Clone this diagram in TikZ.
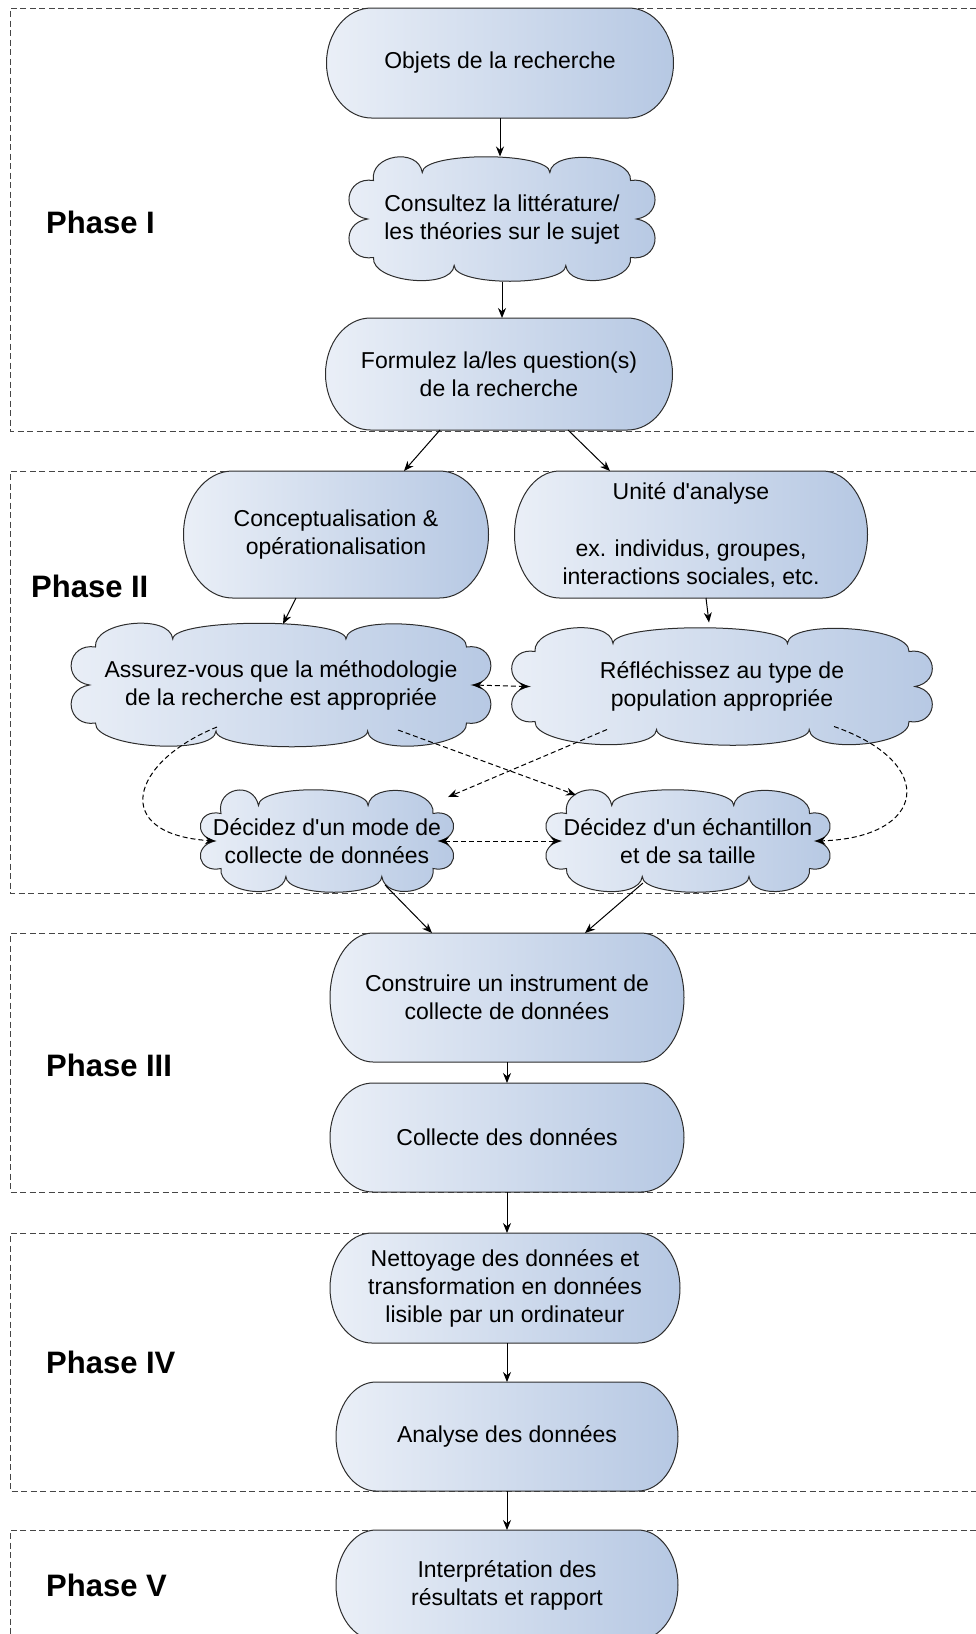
\documentclass[tikz,border=0pt]{standalone}
\usepackage{fontspec}
\setmainfont{Liberation Sans}
\usetikzlibrary{arrows.meta, calc, backgrounds}
\definecolor{fillL}{RGB}{234,239,247}
\definecolor{fillR}{RGB}{182,200,227}
\definecolor{edgecol}{RGB}{45,45,45}
\definecolor{phasecol}{RGB}{70,70,70}
\newcommand\stadium[2]{%
  \path[shapefill] let \p1=(#1.north west), \p2=(#1.south east) in
    (\x1+#2pt,\y1) -- (\x2-#2pt,\y1) arc[start angle=90, end angle=-90, x radius=#2pt, y radius={(\y1-\y2)/2}]
    -- (\x1+#2pt,\y2) arc[start angle=270, end angle=90, x radius=#2pt, y radius={(\y1-\y2)/2}] -- cycle;}
\newcommand\lobe[3]{.. controls ($(#1)!#3!90:(#2)$) and ($(#2)!#3!-90:(#1)$) .. (#2)}
\newcommand\cloudoutline[3]{% name, width, height
  \pgfmathsetmacro\cw{#2/2}\pgfmathsetmacro\ch{#3/2}\pgfmathsetmacro\sb{0.23*#3}%
  \coordinate (#1-c0) at ($(#1.center)+(-\cw+25,0)$);
  \coordinate (#1-c1) at ($(#1.center)+(-\cw+31,\ch-24)$);
  \coordinate (#1-c2) at ($(#1.center)+(-0.25*#2,\ch-16)$);
  \coordinate (#1-c3) at ($(#1.center)+(0.15*#2,\ch-16)$);
  \coordinate (#1-c4) at ($(#1.center)+(\cw-31,\ch-24)$);
  \coordinate (#1-c5) at ($(#1.center)+(\cw-25,0)$);
  \coordinate (#1-c6) at ($(#1.center)+(\cw-31,-\ch+24)$);
  \coordinate (#1-c7) at ($(#1.center)+(0.2*#2,-\ch+16)$);
  \coordinate (#1-c8) at ($(#1.center)+(-0.15*#2,-\ch+16)$);
  \coordinate (#1-c9) at ($(#1.center)+(-\cw+31,-\ch+24)$);
  \path[shapefill] (#1-c0) \lobe{#1-c0}{#1-c1}{\sb pt} \lobe{#1-c1}{#1-c2}{26pt}
    \lobe{#1-c2}{#1-c3}{21pt} \lobe{#1-c3}{#1-c4}{25pt} \lobe{#1-c4}{#1-c5}{\sb pt}
    \lobe{#1-c5}{#1-c6}{\sb pt} \lobe{#1-c6}{#1-c7}{25pt} \lobe{#1-c7}{#1-c8}{21pt}
    \lobe{#1-c8}{#1-c9}{25pt} \lobe{#1-c9}{#1-c0}{\sb pt} -- cycle;}
\begin{document}
\begin{tikzpicture}[x=1pt, y=1pt,
  every node/.style={font=\fontsize{23}{28}\selectfont},
  shapefill/.style={draw=edgecol, line width=1pt, left color=fillL, right color=fillR},
  term/.style={align=center, inner sep=0pt, outer sep=0pt},
  phaselabel/.style={anchor=west, inner sep=0pt, font=\bfseries\fontsize{31}{36}\selectfont},
  phasebox/.style={draw=phasecol, line width=1pt, dash pattern=on 6pt off 3.5pt},
  arr/.style={-{Stealth[length=10pt,width=8pt]}, line width=1pt, draw=black},
  darr/.style={arr, dash pattern=on 5pt off 3pt},
  ddarr/.style={{Stealth[length=10pt,width=8pt]}-{Stealth[length=10pt,width=8pt]}, line width=1pt, dash pattern=on 5pt off 3pt}
]
\useasboundingbox (0,0) rectangle (976,-1634);

% terminator nodes
\node[term, minimum width=347pt, minimum height=110pt] (obj) at (500,-63) {Objets de la recherche};
\node[term, minimum width=347pt, minimum height=112pt] (formul) at (499,-374) {Formulez la/les question(s)\\de la recherche};
\node[term, minimum width=305pt, minimum height=127pt] (concept) at (336,-534.5) {Conceptualisation \&\\op\'erationalisation};
\node[term, minimum width=353pt, minimum height=127pt] (unite) at (691,-534.5) {Unit\'e d\textquotesingle analyse\\[29pt]ex. individus, groupes,\\interactions sociales, etc.};
\node[term, minimum width=354pt, minimum height=129pt] (constr) at (507,-997.5) {Construire un instrument de\\collecte de donn\'ees};
\node[term, minimum width=354pt, minimum height=109pt] (collecte) at (507,-1137.5) {Collecte des donn\'ees};
\node[term, minimum width=350pt, minimum height=110pt] (nettoy) at (505,-1288) {Nettoyage des donn\'ees et\\transformation en donn\'ees\\lisible par un ordinateur};
\node[term, minimum width=342pt, minimum height=109pt] (analyse) at (507,-1436.5) {Analyse des donn\'ees};
\node[term, minimum width=342pt, minimum height=110pt] (interp) at (507,-1585) {Interpr\'etation des\\r\'esultats et rapport};

% cloud nodes
\node[term, minimum width=319pt, minimum height=125pt] (consult) at (502,-219) {Consultez la litt\'erature/\\les th\'eories sur le sujet};
\node[term, minimum width=433pt, minimum height=124pt] (assurez) at (281,-685) {Assurez-vous que la m\'ethodologie\\de la recherche est appropri\'ee};
\node[term, minimum width=436pt, minimum height=118pt] (reflech) at (722,-686.5) {R\'efl\'echissez au type de\\population appropri\'ee};
\node[term, minimum width=274pt, minimum height=103pt] (mode) at (327,-841) {D\'ecidez d\textquotesingle un mode de\\collecte de donn\'ees};
\node[term, minimum width=305pt, minimum height=103pt] (echant) at (688,-841) {D\'ecidez d\textquotesingle un \'echantillon\\et de sa taille};

\begin{scope}[on background layer]
  \draw[phasebox] (976,-8) -- (10,-8) -- (10,-431) -- (976,-431);
  \draw[phasebox] (976,-471) -- (10,-471) -- (10,-893) -- (976,-893);
  \draw[phasebox] (976,-933) -- (10,-933) -- (10,-1192) -- (976,-1192);
  \draw[phasebox] (976,-1233) -- (10,-1233) -- (10,-1491) -- (976,-1491);
  \draw[phasebox] (976,-1530) -- (10,-1530) -- (10,-1640);
  \stadium{obj}{45}
  \stadium{formul}{45}
  \stadium{concept}{49}
  \stadium{unite}{45}
  \stadium{constr}{43}
  \stadium{collecte}{43}
  \stadium{nettoy}{42}
  \stadium{analyse}{40}
  \stadium{interp}{40}
  \cloudoutline{consult}{319}{125}
  \cloudoutline{assurez}{433}{124}
  \cloudoutline{reflech}{436}{118}
  \cloudoutline{mode}{274}{103}
  \cloudoutline{echant}{305}{103}
\end{scope}

% phase labels
\node[phaselabel] (p1) at (46,-222) {Phase I};
\node[phaselabel] (p2) at (31,-586) {Phase II};
\node[phaselabel] (p3) at (46,-1065) {Phase III};
\node[phaselabel] (p4) at (46,-1362) {Phase IV};
\node[phaselabel] (p5) at (46,-1585) {Phase V};

% connectors
\draw[arr] (obj.south) -- (obj.south |- consult.north);
\draw[arr] (consult.south) -- (consult.south |- formul.north);
\draw[arr] ($(formul.south)+(-59,0)$) -- ($(concept.north)+(68,0)$);
\draw[arr] ($(formul.south)+(69,0)$) -- ($(unite.north)+(-81,0)$);
\draw[arr] ($(concept.south)+(-40,0)$) -- ($(assurez.north)+(2,-1)$);
\draw[arr] ($(unite.south)+(15,0)$) -- ($(reflech.north)+(-13,5)$);
\draw[ddarr] (assurez-c5) -- (reflech-c0);
\draw[ddarr] (mode-c5) -- (echant-c0);
\draw[darr] ($(assurez.center)+(-64,-42)$) .. controls +(-87,-35) and +(-105,7) .. (mode-c0);
\draw[darr] ($(assurez.center)+(117,-45)$) -- ($(echant.center)+(-112,46)$);
\draw[darr] ($(reflech.center)+(-115,-43)$) -- ($(mode.center)+(121,44)$);
\draw[darr] ($(reflech.center)+(112,-40)$) .. controls +(106,-37) and +(110,3) .. (echant-c5);
\draw[arr] ($(mode.center)+(58,-44)$) -- ($(constr.north)+(-75,0)$);
\draw[arr] ($(echant.center)+(-45,-42)$) -- ($(constr.north)+(78,0)$);
\draw[arr] (constr.south) -- (collecte.north);
\draw[arr] (collecte.south) -- (collecte.south |- nettoy.north);
\draw[arr] (analyse.north |- nettoy.south) -- (analyse.north);
\draw[arr] (analyse.south) -- (interp.north);
\end{tikzpicture}
\end{document}
